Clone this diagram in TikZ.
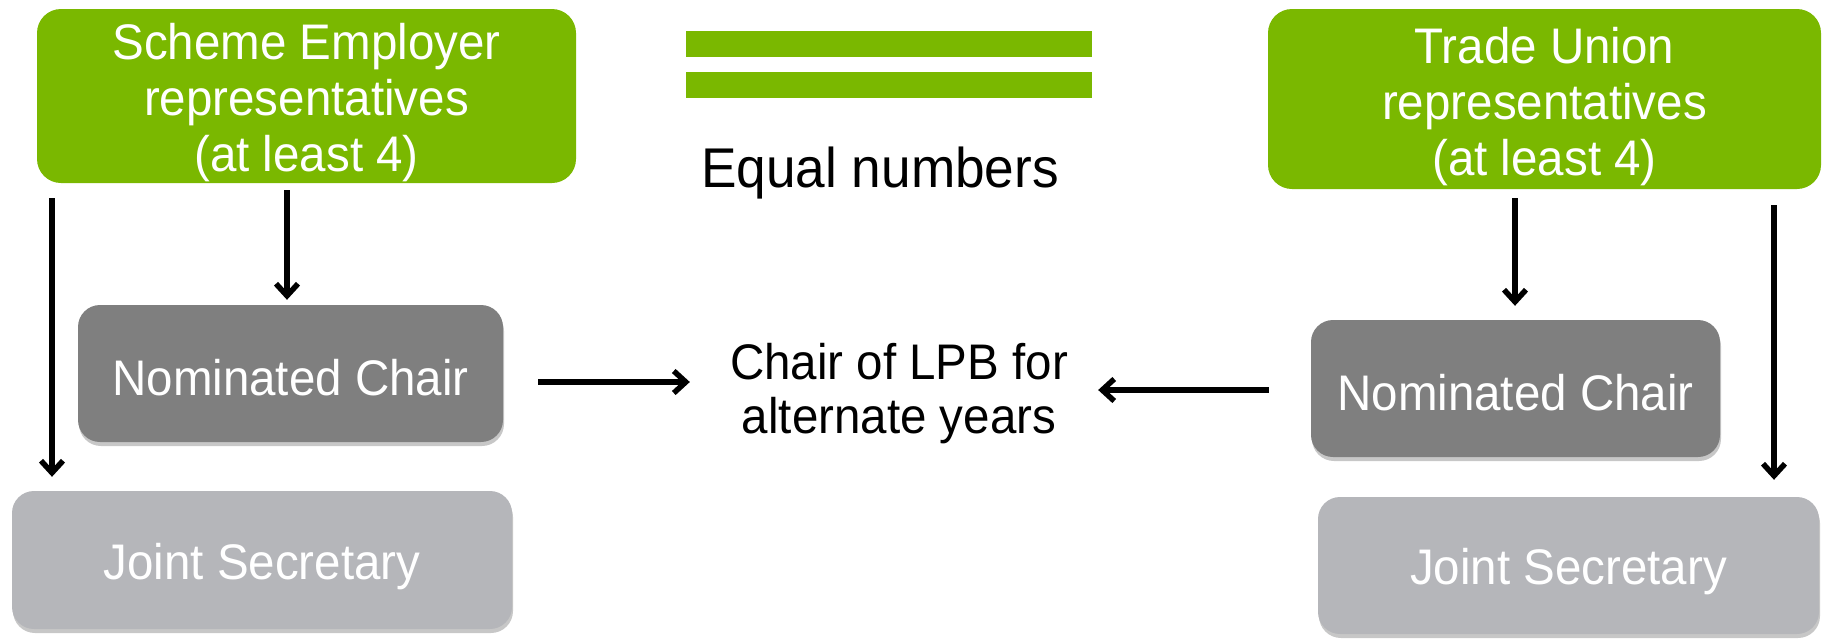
\documentclass[tikz,border=0pt]{standalone}
\usepackage{fontspec}
\setmainfont[FakeStretch=0.95]{Liberation Sans}
\usetikzlibrary{arrows.meta,shadows}
\definecolor{lpbgreen}{RGB}{122,184,0}
\definecolor{darkbox}{RGB}{127,127,127}
\definecolor{lightbox}{RGB}{181,182,186}
\newcommand{\topstrut}[1]{\rule{0pt}{#1}}
\tikzset{
  greenbox/.style={fill=lpbgreen,rounded corners=24pt,text=white,align=center,inner sep=0pt,
    font=\fontsize{50}{56}\selectfont},
  graybox/.style={rounded corners=22pt,text=white,align=center,inner sep=0pt,
    font=\fontsize{50}{56}\selectfont,
    drop shadow={shadow xshift=1pt,shadow yshift=-4pt,opacity=0.22,fill=black}},
  darkstyle/.style={graybox,fill=darkbox},
  lightstyle/.style={graybox,fill=lightbox},
  arr/.style={line width=5.5pt,-{Straight Barb[length=12pt,width=22pt,line width=5.5pt]}},
  bar/.style={fill=lpbgreen}
}
\begin{document}
\begin{tikzpicture}[x=1pt,y=-1pt]
\useasboundingbox (0,0) rectangle (1825,638);
% top boxes
\node[greenbox,minimum width=539pt,minimum height=174pt] (emp) at (306.5,96)
  {\topstrut{50pt}Scheme Employer\\representatives\\(at least 4)};
\node[greenbox,minimum width=553pt,minimum height=180pt] (tu) at (1544.5,99)
  {\topstrut{52pt}Trade Union\\representatives\\(at least 4)};
% equal bars
\fill[bar] (686,31) rectangle (1092,57);
\fill[bar] (686,72) rectangle (1092,98);
\node[font=\fontsize{56}{64}\selectfont,inner sep=0pt,anchor=base] (eq) at (880,187) {Equal numbers};
% chairs
\node[darkstyle,minimum width=425pt,minimum height=137pt] (nc1) at (290.5,373.5) {\topstrut{44pt}Nominated Chair};
\node[darkstyle,minimum width=409pt,minimum height=137pt] (nc2) at (1515.5,388.5) {\topstrut{44pt}Nominated Chair};
% joint secretaries
\node[lightstyle,minimum width=500pt,minimum height=138pt] (js1) at (262,560) {\topstrut{49pt}Joint Secretary};
\node[lightstyle,minimum width=501pt,minimum height=137pt] (js2) at (1568.5,565.5) {\topstrut{49pt}Joint Secretary};
% centre text
\node[align=center,inner sep=0pt,font=\fontsize{50}{54}\selectfont] (chair) at (899,394)
  {Chair of LPB for\\alternate years};
% helper coordinates
\coordinate (xa) at (52,0);
\coordinate (xb) at (287,0);
\coordinate (xc) at (1515,0);
\coordinate (xd) at (1774,0);
\coordinate (yl) at (0,382);
\coordinate (yr) at (0,390);
% connectors
\draw[arr,shorten <=15pt,shorten >=14pt] (emp.south -| xa) -- (js1.north -| xa);
\draw[arr,shorten <=7pt,shorten >=5pt] (emp.south -| xb) -- (nc1.north -| xb);
\draw[arr,shorten <=9pt,shorten >=14pt] (tu.south -| xc) -- (nc2.north -| xc);
\draw[arr,shorten <=16pt,shorten >=17pt] (tu.south -| xd) -- (js2.north -| xd);
\draw[arr,shorten <=35pt,shorten >=40pt] (nc1.east |- yl) -- (chair.west |- yl);
\draw[arr,shorten <=42pt,shorten >=30pt] (nc2.west |- yr) -- (chair.east |- yr);
\end{tikzpicture}
\end{document}
